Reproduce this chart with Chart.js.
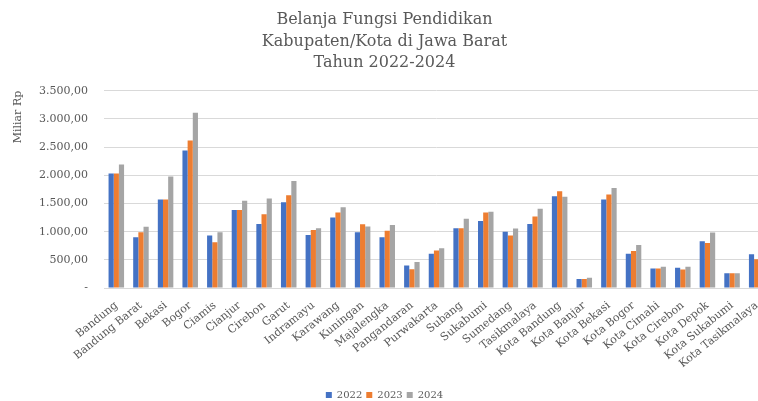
<!DOCTYPE html>
<html>
<head>
<meta charset="utf-8">
<script src="https://cdn.jsdelivr.net/npm/chart.js@4.4.1/dist/chart.umd.min.js"></script>
<style>
  html, body { margin: 0; padding: 0; background: #ffffff; overflow: hidden; width: 758px; height: 401px; }
  canvas { display: block; }
</style>
</head>
<body>
<canvas id="c" width="775" height="401"></canvas>
<script>
const categories = ["Bandung","Bandung Barat","Bekasi","Bogor","Ciamis","Cianjur","Cirebon","Garut","Indramayu","Karawang","Kuningan","Majalengka","Pangandaran","Purwakarta","Subang","Sukabumi","Sumedang","Tasikmalaya","Kota Bandung","Kota Banjar","Kota Bekasi","Kota Bogor","Kota Cimahi","Kota Cirebon","Kota Depok","Kota Sukabumi","Kota Tasikmalaya"];
const values2022 = [2030,900,1570,2440,930,1385,1135,1520,940,1250,990,900,400,610,1060,1190,1000,1135,1630,160,1570,610,345,360,830,260,600];
const values2023 = [2030,990,1570,2620,810,1385,1310,1645,1030,1340,1130,1015,335,665,1060,1340,930,1270,1715,160,1660,655,345,330,800,260,510];
const values2024 = [2190,1085,1980,3110,990,1550,1590,1900,1060,1435,1090,1120,460,705,1230,1355,1055,1405,1620,180,1775,765,375,375,985,260,550];
const seriesNames = ["2022","2023","2024"];
const titleLines = ["Belanja Fungsi Pendidikan","Kabupaten/Kota di Jawa Barat","Tahun 2022-2024"];
const yTitle = "Miliar Rp";

function fmt(v) {
  if (v === 0) return "-";
  const parts = v.toFixed(2).split(".");
  const intPart = parts[0].replace(/\B(?=(\d{3})+(?!\d))/g, ".");
  return intPart + "," + parts[1];
}

const serif = "'DejaVu Serif', 'Liberation Serif', serif";
const textColor = "#595959";

new Chart(document.getElementById("c"), {
  type: "bar",
  data: {
    labels: categories,
    datasets: [
      { label: seriesNames[0], data: values2022, backgroundColor: "#4472C4" },
      { label: seriesNames[1], data: values2023, backgroundColor: "#ED7D31" },
      { label: seriesNames[2], data: values2024, backgroundColor: "#A5A5A5" }
    ]
  },
  options: {
    responsive: false,
    animation: false,
    devicePixelRatio: 1,
    layout: { padding: { left: 0, right: 6, top: 0, bottom: -9 } },
    datasets: { bar: { categoryPercentage: 0.63, barPercentage: 1.0 } },
    plugins: {
      title: {
        display: true,
        text: titleLines,
        color: textColor,
        font: { family: serif, size: 16, weight: "normal", lineHeight: 1.35 },
        padding: { top: 9, bottom: 17 }
      },
      legend: {
        position: "bottom",
        labels: {
          color: textColor,
          font: { family: serif, size: 10 },
          boxWidth: 6,
          boxHeight: 6,
          padding: 4
        }
      },
      tooltip: { enabled: false }
    },
    scales: {
      x: {
        afterFit: (s) => { s.height = 98; },
        grid: { display: false },
        border: { color: "#d9d9d9" },
        ticks: {
          color: textColor,
          font: { family: serif, size: 11 },
          minRotation: 39,
          maxRotation: 39,
          autoSkip: false,
          padding: 3
        }
      },
      y: {
        min: 0,
        max: 3500,
        afterFit: (s) => { s.width = 104; },
        grid: { color: "#d9d9d9", drawTicks: false },
        border: { display: false },
        ticks: {
          stepSize: 500,
          color: textColor,
          font: { family: serif, size: 11 },
          padding: 16,
          callback: (v) => fmt(v)
        },
        title: {
          display: true,
          text: yTitle,
          align: "end",
          color: textColor,
          font: { family: serif, size: 11 },
          padding: { top: 12, bottom: 0 }
        }
      }
    }
  }
});
</script>
</body>
</html>
